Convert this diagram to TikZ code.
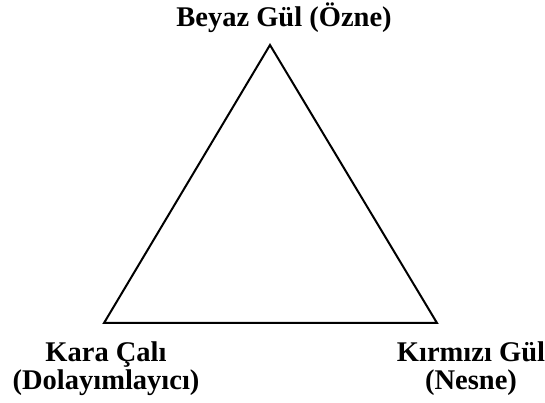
\documentclass[tikz,border=0pt]{standalone}
\usepackage{fontspec}
\setmainfont{Liberation Serif}
\usetikzlibrary{positioning, calc}

\begin{document}
\begin{tikzpicture}[x=1pt, y=1pt,
        lbl/.style={font=\fontsize{28.5}{28}\selectfont\bfseries, align=center, inner sep=0pt, anchor=base},
        edge/.style={line width=2pt, line join=miter}
    ]
        \useasboundingbox (0,0) rectangle (545,403);

        % CORNERS
        \coordinate (top) at (270, 358);
        \coordinate (left) at (104, 80);
        \coordinate (right) at (437, 80);

        % LABELS
        \node[lbl] (subject) at (284, 376) {Beyaz Gül (Özne)};
        \node[lbl] (mediator) at (106, 13) {Kara Çalı\\(Dolayımlayıcı)};
        \node[lbl] (object) at (471, 13) {Kırmızı Gül\\(Nesne)};

        % TRIANGLE
        \draw[edge] (top) -- (right) -- (left) -- cycle;
    \end{tikzpicture}
\end{document}
